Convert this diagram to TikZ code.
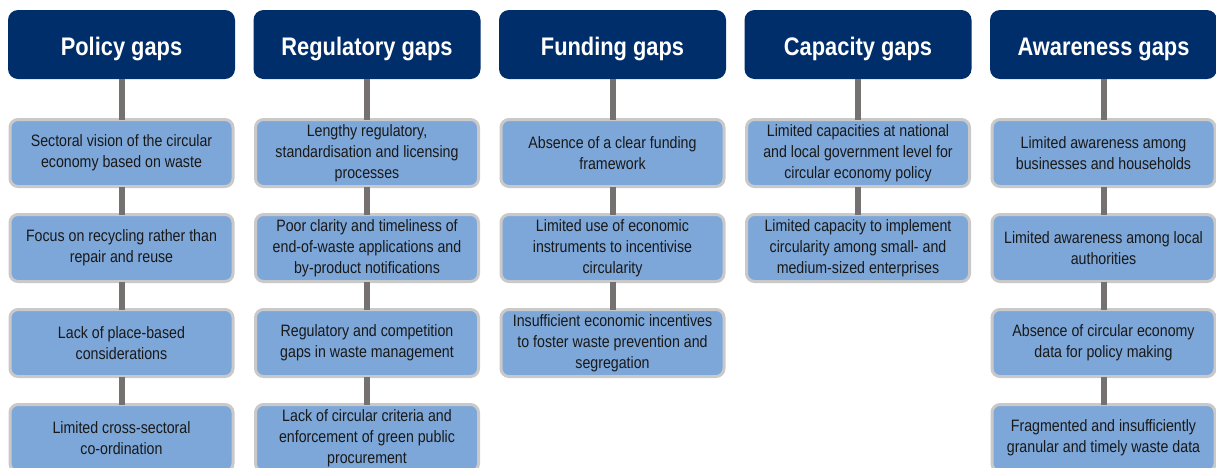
\documentclass[tikz,border=0pt]{standalone}
\usepackage{fontspec}
\setmainfont{Liberation Sans}[FakeStretch=0.86]
\usepackage{xcolor}
\definecolor{gapnavy}{HTML}{002E6B}
\definecolor{gapblue}{HTML}{7DA7D9}
\definecolor{gapedge}{HTML}{C9C9C9}
\definecolor{gapgrey}{HTML}{767171}
\usepackage{tikz}
\usetikzlibrary{positioning}
\tikzset{
  gaphead/.style={fill=gapnavy,text=white,rounded corners=5pt,minimum width=113.5pt,minimum height=34.5pt,inner sep=0pt,outer sep=0pt,text height=11pt,text depth=0pt,font=\fontsize{12.7}{14}\selectfont\bfseries},
  gapbox/.style={draw=gapedge,line width=1.5pt,fill=gapblue,rounded corners=4pt,minimum width=111.5pt,minimum height=33.5pt,inner sep=1pt,outer sep=0pt,align=center,text=black!90,font=\fontsize{8.25}{10.5}\selectfont},
  gapline/.style={draw=gapgrey,line width=3pt}
}

\begin{document}
\begin{tikzpicture}[node distance=14pt and 9.25pt]
\clip (0,0) rectangle (608pt,-233.5pt);
% column headings
\node[gaphead] (pol) at (60.75pt,-22.25pt) {Policy gaps};
\node[gaphead,right=of pol] (reg) {Regulatory gaps};
\node[gaphead,right=of reg] (fund) {Funding gaps};
\node[gaphead,right=of fund] (cap) {Capacity gaps};
\node[gaphead,right=of cap] (awa) {Awareness gaps};
% policy
\node[gapbox,below=20.25pt of pol] (pol1) {Sectoral vision of the circular\\economy based on waste};
\node[gapbox,below=of pol1] (pol2) {Focus on recycling rather than\\repair and reuse};
\node[gapbox,below=of pol2] (pol3) {Lack of place-based\\considerations};
\node[gapbox,below=of pol3] (pol4) {Limited cross-sectoral\\co-ordination};
% regulatory
\node[gapbox,below=20.25pt of reg] (reg1) {Lengthy regulatory,\\standardisation and licensing\\processes};
\node[gapbox,below=of reg1] (reg2) {Poor clarity and timeliness of\\end-of-waste applications and\\by-product notifications};
\node[gapbox,below=of reg2] (reg3) {Regulatory and competition\\gaps in waste management};
\node[gapbox,below=of reg3] (reg4) {Lack of circular criteria and\\enforcement of green public\\procurement};
% funding
\node[gapbox,below=20.25pt of fund] (fund1) {Absence of a clear funding\\framework};
\node[gapbox,below=of fund1] (fund2) {Limited use of economic\\instruments to incentivise\\circularity};
\node[gapbox,below=of fund2] (fund3) {Insufficient economic incentives\\to foster waste prevention and\\segregation};
% capacity
\node[gapbox,below=20.25pt of cap] (cap1) {Limited capacities at national\\and local government level for\\circular economy policy};
\node[gapbox,below=of cap1] (cap2) {Limited capacity to implement\\circularity among small- and\\medium-sized enterprises};
% awareness
\node[gapbox,below=20.25pt of awa] (awa1) {Limited awareness among\\businesses and households};
\node[gapbox,below=of awa1] (awa2) {Limited awareness among local\\authorities};
\node[gapbox,below=of awa2] (awa3) {Absence of circular economy\\data for policy making};
\node[gapbox,below=of awa3] (awa4) {Fragmented and insufficiently\\granular and timely waste data};
% stems
\draw[gapline] (pol) -- (pol1);
\draw[gapline] (pol1) -- (pol2);
\draw[gapline] (pol2) -- (pol3);
\draw[gapline] (pol3) -- (pol4);
\draw[gapline] (reg) -- (reg1);
\draw[gapline] (reg1) -- (reg2);
\draw[gapline] (reg2) -- (reg3);
\draw[gapline] (reg3) -- (reg4);
\draw[gapline] (fund) -- (fund1);
\draw[gapline] (fund1) -- (fund2);
\draw[gapline] (fund2) -- (fund3);
\draw[gapline] (cap) -- (cap1);
\draw[gapline] (cap1) -- (cap2);
\draw[gapline] (awa) -- (awa1);
\draw[gapline] (awa1) -- (awa2);
\draw[gapline] (awa2) -- (awa3);
\draw[gapline] (awa3) -- (awa4);
\end{tikzpicture}
\end{document}
